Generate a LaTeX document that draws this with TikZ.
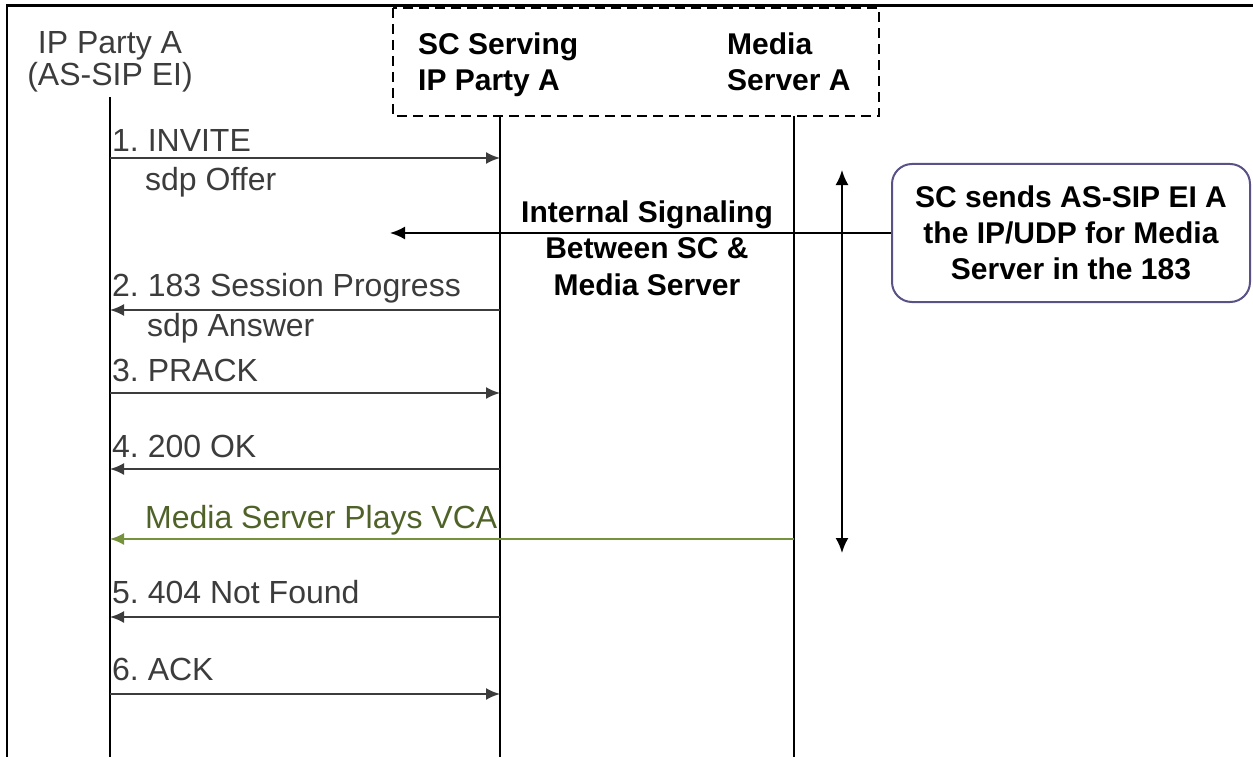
\documentclass[tikz,border=0pt]{standalone}
\usepackage{fontspec}
\setmainfont{Liberation Sans}
\frenchspacing
\usetikzlibrary{arrows.meta}
\definecolor{msggray}{RGB}{60,60,60}
\definecolor{vcaline}{RGB}{118,146,60}
\definecolor{vcatext}{RGB}{79,98,40}
\definecolor{noteline}{RGB}{88,82,135}
\begin{document}
\begin{tikzpicture}[x=1pt,y=-1pt,color=black,
  every node/.style={font=\fontsize{32}{36}\selectfont,inner sep=0pt},
  heavy/.style={font=\fontsize{30}{36}\selectfont\bfseries},
  life/.style={line width=2pt},
  msg/.style={draw=msggray,line width=2pt,-{Latex[length=14pt,width=12pt]}},
  lbl/.style={text=msggray,anchor=base west},
  sig/.style={line width=2pt,-{Latex[length=15pt,width=13pt]}}]
\useasboundingbox (0,0) rectangle (1253,757);
\draw[line width=2.5pt] (7,757) -- (7,5.5) -- (1253,5.5);

\draw[line width=2pt,dash pattern=on 10pt off 6pt] (393,8) rectangle (879,116);
\node[align=center,anchor=base,text=msggray] (ipa) at (110,86) {IP Party A\\[-4pt](AS-SIP EI)};
\node[heavy,align=left,anchor=base west] (sc) at (418,91) {SC Serving\\IP Party A};
\node[heavy,align=left,anchor=base west] (ms) at (727,91) {Media\\Server A};

\coordinate (aTop) at (110,97);  \coordinate (aBot) at (110,757);
\coordinate (sTop) at (500,116); \coordinate (sBot) at (500,757);
\coordinate (mTop) at (794,116); \coordinate (mBot) at (794,757);
\draw[life] (aTop) -- (aBot) (sTop) -- (sBot) (mTop) -- (mBot);

\foreach \n/\y in {1/158,2/310,3/393,4/469,v/539,5/617,6/694}{
  \coordinate (a\n) at (110,\y);
  \coordinate (s\n) at (500,\y);
  \coordinate (m\n) at (794,\y);
}
\draw[msg] (a1) -- (s1);
\draw[msg] (s2) -- (a2);
\draw[msg] (a3) -- (s3);
\draw[msg] (s4) -- (a4);
\draw[msg,draw=vcaline] (mv) -- (av);
\draw[msg] (s5) -- (a5);
\draw[msg] (a6) -- (s6);

\node[lbl] (l1) at (112,152) {1. INVITE};
\node[lbl] (l1b) at (145,190) {sdp Offer};
\node[lbl] (l2) at (112,296) {2. 183 Session Progress};
\node[lbl] (l2b) at (147,336) {sdp Answer};
\node[lbl] (l3) at (112,381) {3. PRACK};
\node[lbl] (l4) at (112,457) {4. 200 OK};
\node[lbl,text=vcatext] (lv) at (145,528) {Media Server Plays VCA};
\node[lbl] (l5) at (112,603) {5. 404 Not Found};
\node[lbl] (l6) at (112,680) {6. ACK};

\node[heavy,draw=noteline,line width=2pt,rounded corners=20pt,align=center,
  minimum width=358,minimum height=138] (note) at (1071,233)
  {SC sends AS-SIP EI A\\the IP/UDP for Media\\Server in the 183};
\coordinate (intEnd) at (390,233);
\draw[sig] (note.west) -- (intEnd);
\node[heavy,align=center,anchor=base] (intl) at (647,295)
  {Internal Signaling\\[0.5pt]Between SC \&\\[0.5pt]Media Server};

\coordinate (vTop) at (842,170);
\coordinate (vBot) at (842,553);
\draw[sig,{Latex[length=15pt,width=13pt]}-{Latex[length=15pt,width=13pt]}] (vTop) -- (vBot);
\end{tikzpicture}
\end{document}
